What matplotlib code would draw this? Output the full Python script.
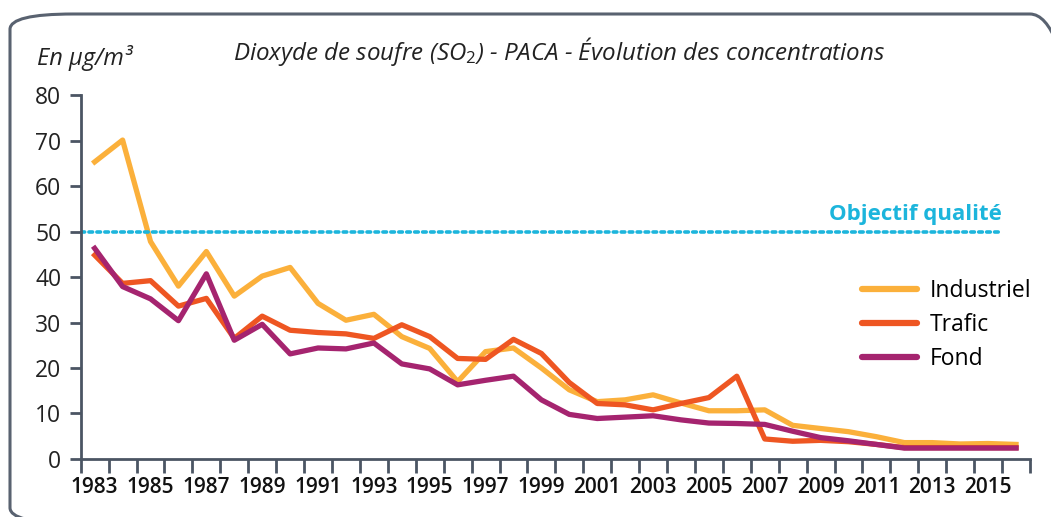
import matplotlib
matplotlib.use("Agg")
import matplotlib.pyplot as plt
import numpy as np
from matplotlib.patches import FancyBboxPatch

# data
years = list(range(1983, 2017))
industriel = [65.3, 70.1, 47.8, 38.0, 45.6, 35.8, 40.2, 42.1, 34.2, 30.5, 31.8, 26.9, 24.3, 17.0, 23.6, 24.4,
              20.0, 15.2, 12.6, 13.0, 14.1, 12.3, 10.6, 10.6, 10.8, 7.4, 6.7, 6.0, 4.9, 3.6, 3.6, 3.3, 3.4, 3.2]
trafic = [44.8, 38.6, 39.2, 33.6, 35.3, 26.5, 31.4, 28.3, 27.8, 27.5, 26.5, 29.5, 26.9, 22.1, 21.9, 26.3,
          23.2, 16.8, 12.2, 11.9, 10.8, 12.2, 13.5, 18.2, 4.4, 3.9, 4.1, 3.8, 3.2, 2.5, 2.5, 2.5, 2.5, 2.5]
fond = [46.3, 37.9, 35.2, 30.4, 40.7, 26.1, 29.6, 23.1, 24.4, 24.2, 25.5, 20.9, 19.8, 16.3, 17.3, 18.2,
        13.0, 9.8, 8.9, 9.2, 9.5, 8.6, 7.9, 7.8, 7.6, 6.1, 4.7, 4.0, 3.2, 2.4, 2.4, 2.4, 2.4, 2.4]
objectif = 50
yticks = [0, 10, 20, 30, 40, 50, 60, 70, 80]

c_ind = "#FBB03B"
c_tra = "#EE5622"
c_fon = "#A5246F"
c_obj = "#1CB5DC"
c_ax = "#4B5563"

plt.rcParams['font.family'] = ['Open Sans', 'DejaVu Sans']
plt.rcParams['mathtext.fontset'] = 'custom'
plt.rcParams['mathtext.rm'] = 'Open Sans'
plt.rcParams['mathtext.it'] = 'Open Sans:italic'

fig = plt.figure(figsize=(10.51, 5.17), dpi=100)
ax = fig.add_axes([0.0768, 0.1122, 0.9032, 0.704])

x = np.arange(len(years))
ax.plot(x, industriel, color=c_ind, lw=3.8, label="Industriel")
ax.plot(x, trafic, color=c_tra, lw=3.8, label="Trafic")
ax.plot(x, fond, color=c_fon, lw=3.8, label="Fond")

# objectif qualite
ax.plot([-0.5, 32.4], [objectif, objectif], color=c_obj, lw=2.6, linestyle=(0, (1.0, 1.2)),
        dash_capstyle='round')
ax.text(32.5, objectif + 1.4, "Objectif qualité", color=c_obj, fontsize=16, fontweight='bold',
        ha='right', va='bottom')

ax.set_xlim(-0.5, len(years) - 0.5)
ax.set_ylim(0, 80)
for s in ['top', 'right']:
    ax.spines[s].set_visible(False)
for s in ['left', 'bottom']:
    ax.spines[s].set_color(c_ax)
    ax.spines[s].set_linewidth(2)

ax.set_yticks(yticks)
ax.set_yticklabels([str(v) for v in yticks], fontsize=16.5, color="#222222")
ax.tick_params(axis='y', length=8, width=2, color=c_ax, pad=6)

# ticks between years, labels every other year
ax.set_xticks(np.arange(-0.5, len(years)))
ax.set_xticklabels([])
ax.tick_params(axis='x', which='major', length=10, width=2, color=c_ax)
ax.set_xticks(x[::2], minor=True)
ax.set_xticklabels([str(y) for y in years[::2]], minor=True, fontsize=15, fontweight='semibold',
                   color="#111111")
ax.tick_params(axis='x', which='minor', length=0, pad=13)

leg = ax.legend(loc='center left', bbox_to_anchor=(862 / 1051, 1 - 325 / 517),
                bbox_transform=fig.transFigure, frameon=False, fontsize=16.5, borderpad=0,
                borderaxespad=0, handlelength=2.4, handletextpad=0.55, labelspacing=0.42)
for ln in leg.get_lines():
    ln.set_linewidth(4.5)
    ln.set_solid_capstyle('round')

fig.text(37 / 1051, 1 - 58 / 517, "En µg/m³", fontsize=17, style='italic', va='center', ha='left',
         color="#222222")
fig.text(559 / 1051, 1 - 52 / 517, "Dioxyde de soufre (SO$_{2}$) - PACA - Évolution des concentrations",
         fontsize=17.4, style='italic', va='center', ha='center', color="#222222")

# rounded frame, cut by the right and bottom edges
box = FancyBboxPatch((10 / 1051, -6 / 517), 1.04 - 10 / 1051, 1 - 14 / 517 + 6 / 517,
                     boxstyle="round,pad=0,rounding_size=0.06", transform=fig.transFigure,
                     facecolor='none', edgecolor="#596270", lw=2.2, mutation_aspect=517 / 1051,
                     clip_on=False)
fig.patches.append(box)

fig.savefig("out.png", dpi=100)
